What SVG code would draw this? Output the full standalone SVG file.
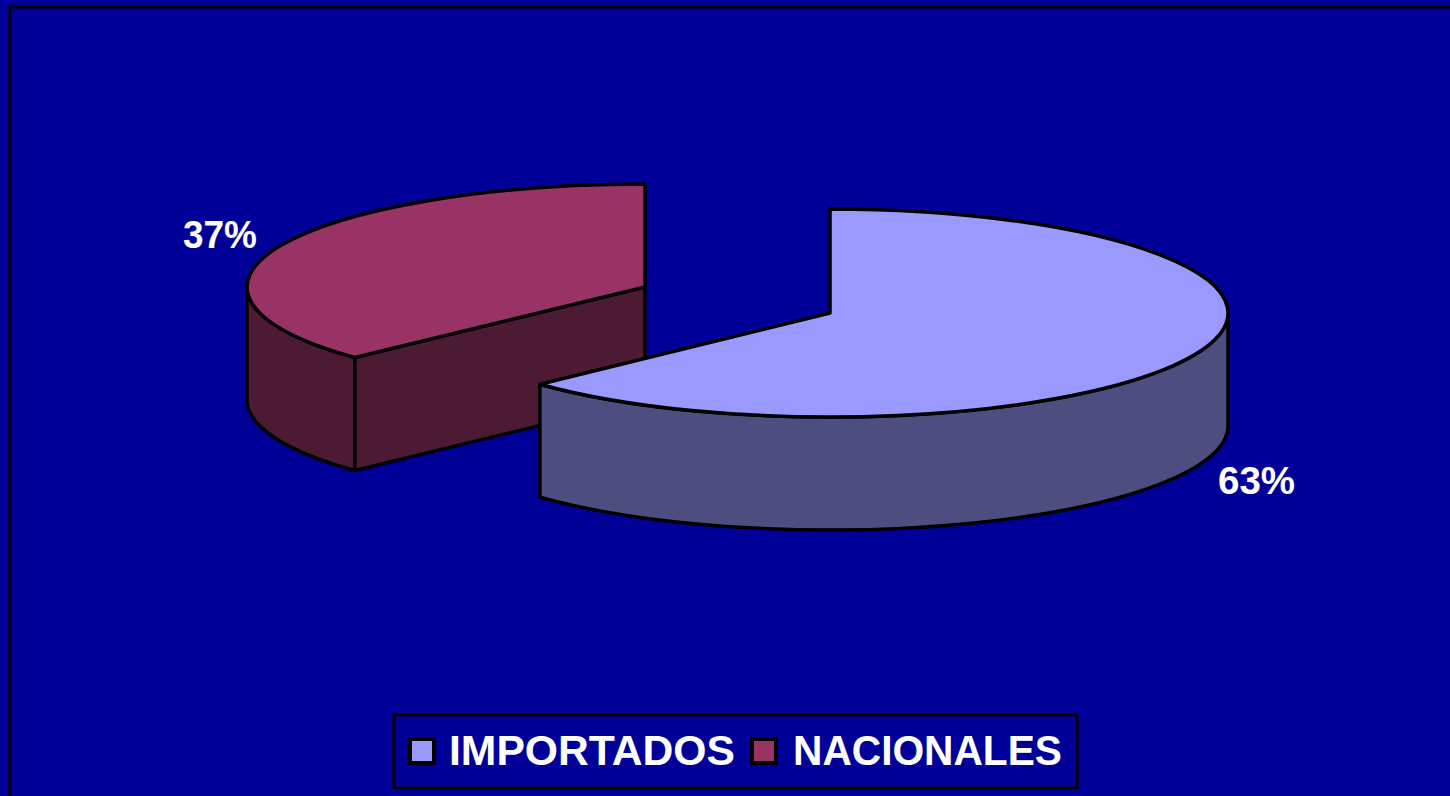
<svg xmlns="http://www.w3.org/2000/svg" width="1450" height="796" viewBox="0 0 1450 796">
<style>
.s{stroke:#000;stroke-width:3.5;stroke-linejoin:round}
.lbl{font-family:"Liberation Sans",Arial,sans-serif;font-weight:bold;fill:#fff}
</style>
<rect width="1450" height="796" fill="#000099"/>
<rect x="10" y="7" width="1500" height="900" fill="none" stroke="#000" stroke-width="3"/>
<g id="nacionales">
<path class="s" fill="#4D1A33" d="M247,287 A398,103 0 0 0 354.9,357.5 L354.9,470.5 A398,103 0 0 1 247,400 Z"/>
<path class="s" fill="#4D1A33" d="M354.9,357.5 L645,287 L645,400 L354.9,470.5 Z"/>
<path class="s" fill="#993366" d="M645,287 L645,184 A398,103 0 0 0 354.9,357.5 Z"/>
<text class="lbl" x="183" y="248" font-size="38" textLength="74" lengthAdjust="spacingAndGlyphs">37%</text>
</g>
<g id="importados">
<path class="s" fill="#4D4D80" d="M1228,313 A398,104 0 0 1 539.9,384.2 L539.9,497.2 A398,104 0 0 0 1228,426 Z"/>
<path class="s" fill="#9999FF" d="M830,313 L830,209 A398,104 0 1 1 539.9,384.2 Z"/>
<text class="lbl" x="1218" y="494" font-size="38" textLength="77" lengthAdjust="spacingAndGlyphs">63%</text>
</g>
<g id="legend">
<rect x="394" y="715" width="683" height="73" fill="#000099" stroke="#000" stroke-width="3"/>
<rect x="410" y="739" width="24" height="24" fill="#9999FF" stroke="#000" stroke-width="4"/>
<text class="lbl" x="449" y="765" font-size="43" textLength="286" lengthAdjust="spacingAndGlyphs">IMPORTADOS</text>
<rect x="752" y="739" width="24" height="24" fill="#993366" stroke="#000" stroke-width="4"/>
<text class="lbl" x="793" y="765" font-size="43" textLength="269" lengthAdjust="spacingAndGlyphs">NACIONALES</text>
</g>
</svg>
